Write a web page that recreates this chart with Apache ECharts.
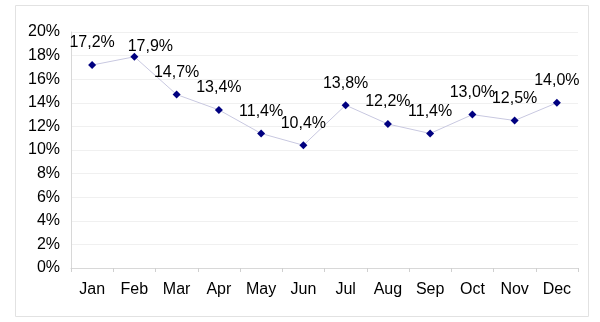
<!DOCTYPE html>
<html>
<head>
<meta charset="utf-8">
<script src="https://cdn.jsdelivr.net/npm/echarts@6/dist/echarts.min.js"></script>
<style>
  html, body { margin: 0; padding: 0; background: #fff; }
  #chart { width: 600px; height: 322px; }
</style>
</head>
<body>
<div id="chart"></div>
<script>
const months = ['Jan', 'Feb', 'Mar', 'Apr', 'May', 'Jun', 'Jul', 'Aug', 'Sep', 'Oct', 'Nov', 'Dec'];
const rates = [17.2, 17.9, 14.7, 13.4, 11.4, 10.4, 13.8, 12.2, 11.4, 13.0, 12.5, 14.0];
const yTicks = [0, 2, 4, 6, 8, 10, 12, 14, 16, 18, 20];

const chart = echarts.init(document.getElementById('chart'));
const font = 'Arial, "Liberation Sans", sans-serif';

const seriesData = rates.map((v, i) => {
  // Feb label sits a little to the right in the original
  if (i === 1) {
    return { value: v, label: { offset: [16, 12] } };
  }
  return v;
});

chart.setOption({
  animation: false,
  graphic: [{
    type: 'rect',
    shape: { x: 15.5, y: 5.5, width: 573, height: 311 },
    style: { fill: 'none', stroke: '#e2e2e2', lineWidth: 1 },
  }],
  grid: { left: 71, right: 22, top: 32, bottom: 54 },
  xAxis: {
    type: 'category',
    data: months,
    boundaryGap: true,
    axisLine: { lineStyle: { color: '#d8d8d8' } },
    axisTick: { show: true, length: 4, lineStyle: { color: '#d0d0d0' } },
    axisLabel: { color: '#000', fontSize: 16, fontFamily: font, margin: 14 },
  },
  yAxis: {
    type: 'value',
    min: yTicks[0],
    max: yTicks[yTicks.length - 1],
    interval: 2,
    axisLine: { show: true, lineStyle: { color: '#d8d8d8' } },
    axisTick: { show: false },
    splitLine: { lineStyle: { color: '#f0f0f0' } },
    axisLabel: {
      color: '#000', fontSize: 16, fontFamily: font, margin: 11,
      formatter: (v) => v + '%',
    },
  },
  series: [{
    type: 'line',
    data: seriesData,
    symbol: 'diamond',
    symbolSize: 8,
    itemStyle: { color: '#000080' },
    lineStyle: { color: '#c8c8e0', width: 1 },
    label: {
      show: true,
      position: 'top',
      distance: 10,
      color: '#000',
      fontSize: 16,
      fontFamily: font,
      formatter: (p) => p.value.toFixed(1).replace('.', ',') + '%',
    },
  }],
});
</script>
</body>
</html>
